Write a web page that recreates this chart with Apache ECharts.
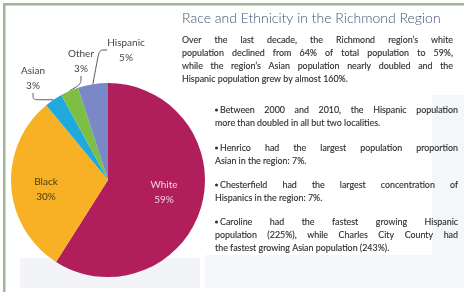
<!DOCTYPE html>
<html>
<head>
<meta charset="utf-8">
<script src="https://cdn.jsdelivr.net/npm/echarts@6/dist/echarts.min.js"></script>
<style>
  html, body { margin: 0; padding: 0; background: #ffffff; }
  #chart { width: 464px; height: 292px; }
</style>
</head>
<body>
<div id="chart"></div>
<script>
// race / ethnicity shares, Richmond region (percent)
const categories = ["White", "Black", "Asian", "Other", "Hispanic"];
const shares = [59, 30, 3, 3, 5];
const sliceColors = ["#b01f5c", "#f8b124", "#1fa9dc", "#7dbf45", "#7b88c8"];

const titleText = "Race and Ethnicity in the Richmond Region";
const introLines = [
  "Over the last decade, the Richmond region\u2019s white",
  "population declined from 64% of total population to 59%,",
  "while the region\u2019s Asian population nearly doubled and the",
  "Hispanic population grew by almost 160%."
];
const bulletBlocks = [
  ["Between 2000 and 2010, the Hispanic population", "more than doubled in all but two localities."],
  ["Henrico had the largest population proportion", "Asian in the region: 7%."],
  ["Chesterfield had the largest concentration of", "Hispanics in the region: 7%."],
  ["Caroline had the fastest growing Hispanic", "population (225%), while Charles City County had", "the fastest growing Asian population (243%)."]
];

const bodyFont = "Lato";
const bodySize = 8.9;
const bodyColor = "#2e2e2e";

const measureCtx = document.createElement("canvas").getContext("2d");
function textWidth(str) {
  measureCtx.font = bodySize + "px " + bodyFont;
  return measureCtx.measureText(str).width;
}

function wordStyle(str) {
  return {
    text: str,
    font: bodySize + "px " + bodyFont,
    fill: bodyColor,
    stroke: bodyColor,
    lineWidth: 0.12,
    verticalAlign: "middle"
  };
}

// one text element per word so a line can be spread to full width
function lineElements(line, x0, x1, y, justify) {
  if (!justify) {
    return [{ type: "text", x: x0, y: y, style: wordStyle(line) }];
  }
  const words = line.split(" ");
  const widths = words.map(textWidth);
  const total = widths.reduce((a, b) => a + b, 0);
  const gap = (x1 - x0 - total) / (words.length - 1);
  const out = [];
  let x = x0;
  words.forEach((w, i) => {
    out.push({ type: "text", x: x, y: y, style: wordStyle(w) });
    x += widths[i] + gap;
  });
  return out;
}

const graphics = [];

// faint background panels
graphics.push({ type: "rect", shape: { x: 20, y: 258, width: 180, height: 30 }, style: { fill: "#f2f4f8" }, z: -10 });
graphics.push({ type: "rect", shape: { x: 205, y: 255, width: 259, height: 33 }, style: { fill: "#f4f6f9" }, z: -10 });
graphics.push({ type: "rect", shape: { x: 432, y: 95, width: 32, height: 165 }, style: { fill: "#f4f6f9" }, z: -10 });

// frame lines
graphics.push({ type: "rect", shape: { x: 3, y: 3, width: 461, height: 2.5 }, style: { fill: "#a2b697" } });
graphics.push({ type: "rect", shape: { x: 3, y: 3, width: 2.5, height: 289 }, style: { fill: "#a2b697" } });

// title
graphics.push({ type: "text", x: 182, y: 18, style: { text: titleText, font: "300 14px Lato", fill: "#3f5476", verticalAlign: "middle" } });

introLines.forEach((line, i) => {
  const last = i === introLines.length - 1;
  graphics.push(...lineElements(line, 182, 453, 40 + i * 13, !last));
});

const blockTops = [110, 148, 185, 222];
bulletBlocks.forEach((block, b) => {
  const top = blockTops[b];
  graphics.push({ type: "circle", shape: { cx: 216.5, cy: top, r: 1.5 }, style: { fill: bodyColor } });
  block.forEach((line, i) => {
    const last = i === block.length - 1;
    const x0 = i === 0 ? 220 : 215;
    graphics.push(...lineElements(line, x0, 458, top + i * 13, !last));
  });
});

// label spots for each slice (centre of the text block)
const labelSpots = [[164, 192], [46, 189], [33, 78], [81, 61], [126, 50]];
const labelColors = ["#f4d2de", "#4b3a17", "#444444", "#444444", "#444444"];

const chart = echarts.init(document.getElementById("chart"));
chart.setOption({
  animation: false,
  graphic: graphics,
  series: [{
    type: "pie",
    center: [108, 180],
    radius: 97,
    startAngle: 90,
    clockwise: true,
    silent: true,
    avoidLabelOverlap: false,
    data: categories.map((name, i) => ({
      name: name,
      value: shares[i],
      itemStyle: { color: sliceColors[i] },
      label: { color: labelColors[i] },
      labelLine: { show: i >= 2 }
    })),
    label: {
      position: "outside",
      formatter: "{b}\n{c}%",
      fontFamily: "Lato",
      fontSize: 10,
      lineHeight: 15,
      align: "center",
      overflow: "none"
    },
    labelLine: {
      smooth: true,
      length: 8,
      length2: 8,
      lineStyle: { color: "#555555", width: 1 }
    },
    labelLayout: function (params) {
      const p = labelSpots[params.dataIndex];
      return { x: p[0], y: p[1], align: "center", verticalAlign: "middle" };
    }
  }]
});
</script>
</body>
</html>
